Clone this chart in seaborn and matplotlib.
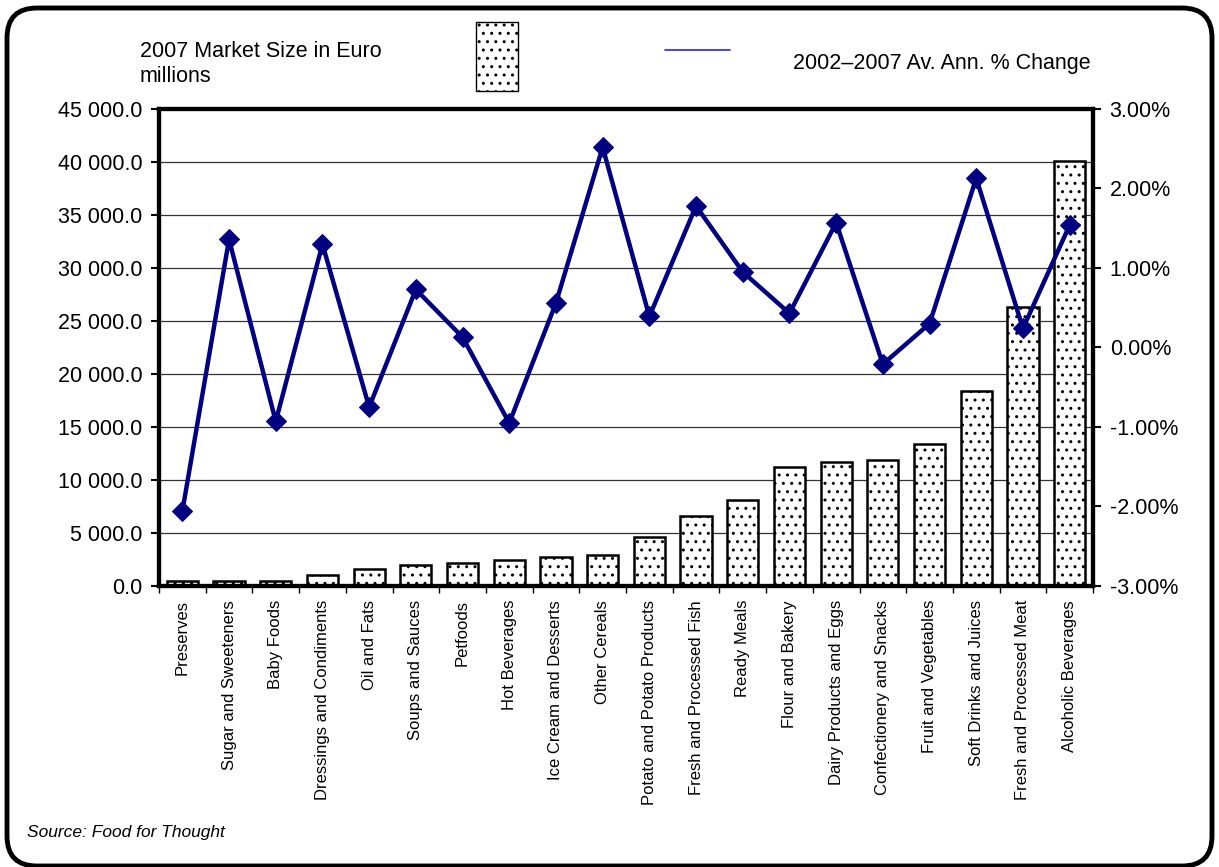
import numpy as np
import pandas as pd
import matplotlib
matplotlib.use('Agg')
import matplotlib.pyplot as plt
import seaborn as sns
from matplotlib.ticker import FuncFormatter, MultipleLocator, FixedLocator
from matplotlib.patches import FancyBboxPatch, Rectangle
from matplotlib.lines import Line2D

categories = ["Preserves", "Sugar and Sweeteners", "Baby Foods", "Dressings and Condiments",
              "Oil and Fats", "Soups and Sauces", "Petfoods", "Hot Beverages",
              "Ice Cream and Desserts", "Other Cereals", "Potato and Potato Products",
              "Fresh and Processed Fish", "Ready Meals", "Flour and Bakery",
              "Dairy Products and Eggs", "Confectionery and Snacks", "Fruit and Vegetables",
              "Soft Drinks and Juices", "Fresh and Processed Meat", "Alcoholic Beverages"]
market_size = [450, 450, 450, 1000, 1650, 2000, 2200, 2500, 2700, 2900, 4600,
               6650, 8100, 11200, 11700, 11850, 13350, 18400, 26300, 40100]
pct_change = [-2.06, 1.36, -0.93, 1.30, -0.75, 0.73, 0.13, -0.95, 0.56, 2.52, 0.39,
              1.78, 0.95, 0.43, 1.57, -0.21, 0.30, 2.13, 0.24, 1.54]
bar_label = "2007 Market Size in Euro\nmillions"
line_label = "2002\u20132007 Av. Ann. % Change"
source = "Source: Food for Thought"

sns.set_theme(style='white')
plt.rcParams['font.family'] = ['Liberation Sans', 'DejaVu Sans']
for k in ['text.color', 'axes.labelcolor', 'xtick.color', 'ytick.color']:
    plt.rcParams[k] = 'black'
plt.rcParams['hatch.linewidth'] = 1.0
plt.rcParams['hatch.color'] = 'black'

W, H = 1219, 867
fig = plt.figure(figsize=(W / 100, H / 100), dpi=100)
fig.patch.set_facecolor('white')
ax = fig.add_axes([159 / W, 1 - 586 / H, (1093 - 159) / W, (586 - 109) / H])

df = pd.DataFrame({'category': categories, 'market': market_size, 'change': pct_change})
sns.barplot(data=df, x='category', y='market', ax=ax, color='white', saturation=1,
            edgecolor='black', linewidth=1.8, width=0.67, hatch='..', zorder=2)
ax.set_xlim(-0.5, len(categories) - 0.5)
ax.set_ylim(0, 45000)
ax.yaxis.set_major_locator(MultipleLocator(5000))
ax.yaxis.set_major_formatter(FuncFormatter(lambda v, p: f"{v:,.1f}".replace(",", " ")))
ax.yaxis.grid(True, color='#333333', lw=0.9)
ax.set_axisbelow(True)
ax.set_xlabel('')
ax.set_ylabel('')
ax.tick_params(axis='y', left=True, direction='out', length=6, width=1.5, labelsize=15.5, pad=6)
ax.set_xticks(range(len(categories)))
ax.set_xticklabels(categories, rotation=90, fontsize=12, va='top', ha='center')
ax.xaxis.set_minor_locator(FixedLocator(np.arange(-0.5, len(categories), 1.0)))
ax.tick_params(axis='x', which='major', bottom=True, length=0, pad=10)
ax.tick_params(axis='x', which='minor', bottom=True, direction='out', length=5, width=1)

ax2 = ax.twinx()
sns.lineplot(x=np.arange(len(categories)), y=pct_change, ax=ax2, color='#000080', lw=3.2,
             marker='D', markersize=10, markeredgecolor='#000080', zorder=5)
ax2.set_ylim(-3, 3)
ax2.yaxis.set_major_locator(MultipleLocator(1))
ax2.yaxis.set_major_formatter(FuncFormatter(lambda v, p: f"{v:.2f}%"))
ax2.tick_params(axis='y', right=True, direction='out', length=6, width=1.5, labelsize=15.5, pad=6)
ax2.set_ylabel('')

for a in (ax, ax2):
    for s in a.spines.values():
        s.set_visible(True)
        s.set_color('black')
        s.set_linewidth(3)

# legend (manual, above plot)
fig.text(140 / W, 1 - 64 / H, bar_label, fontsize=15.5, ha='left', va='center', linespacing=1.2)
fig.patches.append(Rectangle((476 / W, 1 - 91 / H), 42 / W, 69 / H, transform=fig.transFigure,
                             facecolor='white', edgecolor='black', lw=1, hatch='..'))
fig.lines.append(Line2D([665 / W, 730 / W], [1 - 50 / H, 1 - 50 / H], transform=fig.transFigure,
                        color='#2020ff', lw=1.2))
fig.text(793 / W, 1 - 63 / H, line_label, fontsize=15.5, ha='left', va='center')

fig.text(27 / W, 1 - 832 / H, source, fontsize=12.5, style='italic', ha='left', va='center')

# rounded frame
fig.patches.append(FancyBboxPatch((0.07, 0.01), 12.05, 8.58,
                                  boxstyle='round,pad=0,rounding_size=0.3',
                                  transform=fig.dpi_scale_trans, facecolor='none',
                                  edgecolor='black', lw=3.5))

fig.savefig('out.png', dpi=100)
